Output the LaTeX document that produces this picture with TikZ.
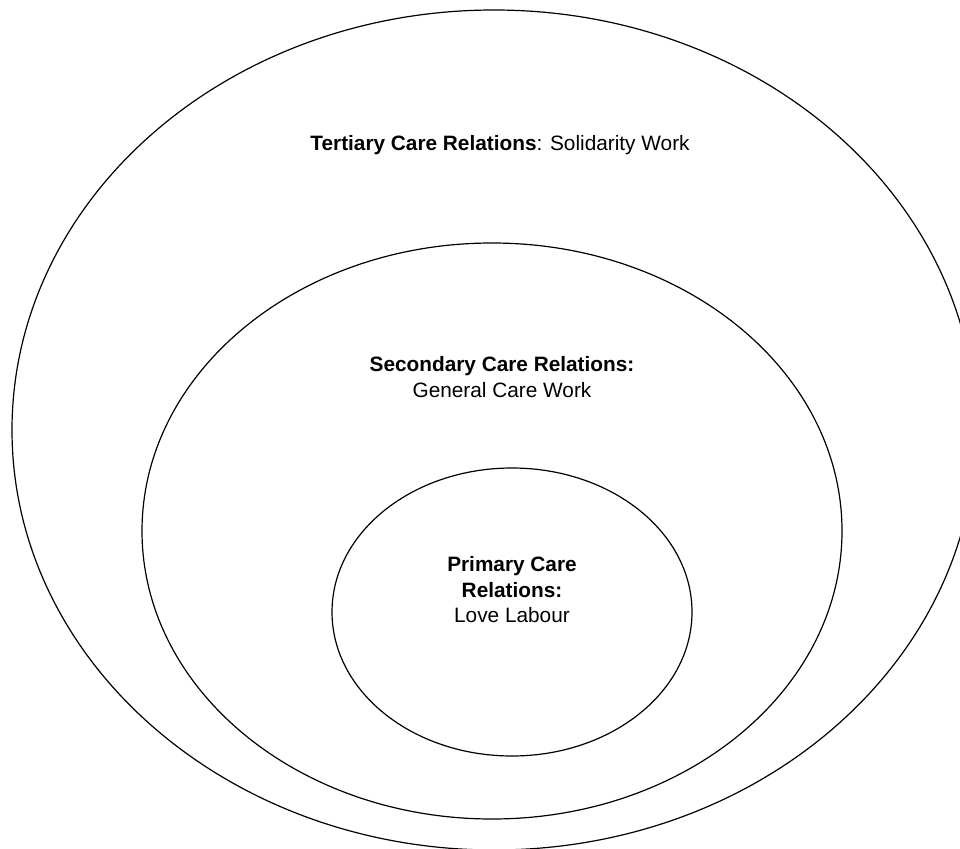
\documentclass[tikz,border=0pt]{standalone}
\usepackage{fontspec}
\setmainfont{Liberation Sans}
\begin{document}
\begin{tikzpicture}[x=1pt,y=-1pt,
  ring/.style={draw=black,line width=1.2pt},
  lbl/.style={align=center,inner sep=0pt,font=\fontsize{20.8}{25.5}\selectfont}]
\useasboundingbox (0,0) rectangle (960,848);
\clip (0,0) rectangle (960,848);
\draw[ring] (494,430) ellipse [x radius=482, y radius=420];
\draw[ring] (492,531) ellipse [x radius=350, y radius=288];
\draw[ring] (512,612) ellipse [x radius=180, y radius=144];
\node[lbl,anchor=base] (tert) at (500,150) {\textbf{Tertiary Care Relations}: Solidarity Work};
\node[lbl] (sec) at (502,377) {\textbf{Secondary Care Relations:}\\General Care Work};
\node[lbl] (prim) at (512,590) {\textbf{Primary Care}\\\textbf{Relations:}\\Love Labour};
\end{tikzpicture}
\end{document}
